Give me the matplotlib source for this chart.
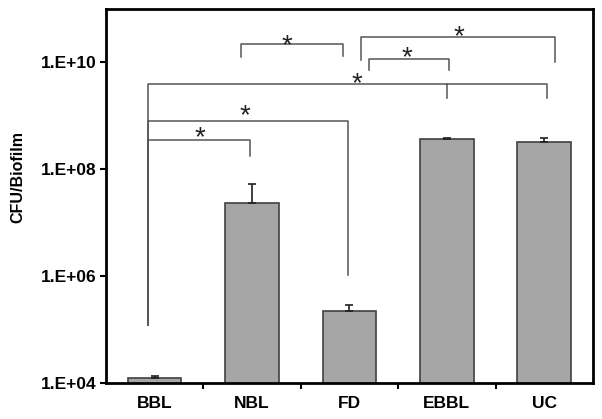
import matplotlib
matplotlib.use("Agg")
import matplotlib.pyplot as plt
import numpy as np

categories = ["BBL", "NBL", "FD", "EBBL", "UC"]
values = [1.24e4, 2.3e7, 2.27e5, 3.7e8, 3.2e8]
err_upper = [1.3e3, 2.9e7, 0.63e5, 0.2e8, 0.7e8]

ytick_vals = [1e4, 1e6, 1e8, 1e10]
ytick_labels = ["1.E+04", "1.E+06", "1.E+08", "1.E+10"]

# significance brackets
br_x1 = [-0.07, -0.07, -0.07, 0.89, 2.20, 2.12]
br_x2 = [0.98, 1.99, 4.03, 1.93, 3.02, 4.11]
br_y = [3.6e8, 7.9e8, 3.9e9, 2.2e10, 1.17e10, 3.0e10]
br_y1 = [1.2e5, 1.2e5, 1.2e5, 1.24e10, 7.1e9, 1.09e10]
br_y2 = [1.8e8, 1.05e6, 2.2e9, 1.3e10, 7.3e9, 1.0e10]
mid_x = [3.0]
mid_ytop = [3.9e9]
mid_ybot = [2.2e9]
star_x = [0.465, 0.927, 2.077, 1.358, 2.59, 3.124]
star_y = [4.9e8, 1.26e9, 5.1e9, 2.57e10, 1.55e10, 3.8e10]

plt.rcParams['font.family'] = ['Liberation Sans', 'DejaVu Sans']

fig = plt.figure(figsize=(6.02, 4.19), dpi=100)
ax = fig.add_axes([0.176, 0.0859, 0.809, 0.8926])

x = np.arange(len(categories))
ax.bar(x, values, width=0.55, color='#a6a6a6', edgecolor='#404040', linewidth=1.2, zorder=2)
ax.errorbar(x, values, yerr=[np.zeros(len(values)), err_upper], fmt='none',
            ecolor='#202020', elinewidth=1.2, capsize=3, capthick=1.2, zorder=3)

lc = '#555555'
lw = 1.1
for a, b, yy, y1, y2 in zip(br_x1, br_x2, br_y, br_y1, br_y2):
    ax.plot([a, a, b, b], [y1, yy, yy, y2], color=lc, lw=lw, zorder=1)
for mx, yt, yb in zip(mid_x, mid_ytop, mid_ybot):
    ax.plot([mx, mx], [yt, yb], color=lc, lw=lw, zorder=1)
for sx, sy in zip(star_x, star_y):
    ax.annotate("*", (sx, sy), xytext=(0, -6), textcoords='offset pixels',
                ha='center', va='center', fontsize=20, color='#222222')

ax.set_yscale('log')
ax.set_ylim(1e4, 1e11)
ax.set_xlim(-0.5, 4.5)
ax.set_yticks(ytick_vals)
ax.set_yticklabels(ytick_labels, fontweight='bold', fontsize=12.5)
ax.yaxis.set_minor_locator(matplotlib.ticker.NullLocator())
ax.tick_params(axis='y', direction='out', length=4, width=1.5, pad=3)

ax.set_xticks([0.5, 1.5, 2.5, 3.5])
ax.set_xticklabels([])
ax.set_xticks(x, minor=True)
ax.set_xticklabels(categories, minor=True, fontweight='bold', fontsize=12.5)
ax.tick_params(axis='x', which='major', direction='out', length=4, width=1.5)
ax.tick_params(axis='x', which='minor', length=0, pad=9)

for s in ax.spines.values():
    s.set_linewidth(2)
    s.set_color('black')

ax.set_ylabel("CFU/Biofilm", fontweight='bold', fontsize=11.5)
ax.yaxis.set_label_coords(-0.165, 0.55)

fig.savefig("out.png", dpi=100)
